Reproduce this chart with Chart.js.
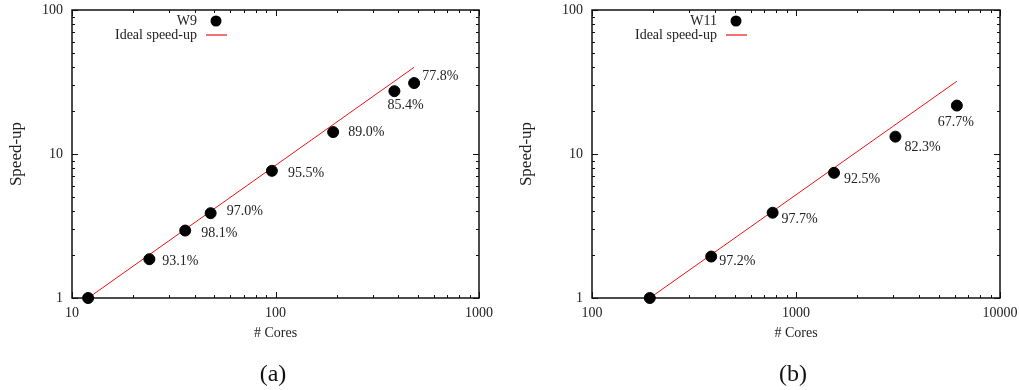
<!DOCTYPE html>
<html>
<head>
<meta charset="utf-8">
<script src="https://cdn.jsdelivr.net/npm/chart.js@4/dist/chart.umd.min.js"></script>
<style>
  body { margin: 0; background: #fff; width: 1019px; height: 390px; position: relative; overflow: hidden; }
  canvas { position: absolute; top: 0; }
  #chartA { left: 0; }
  #chartB { left: 510px; }
  .caption { position: absolute; top: 360px; width: 60px; text-align: center;
             font: 24px "Liberation Serif", "DejaVu Serif", serif; color: #111; }
</style>
</head>
<body>
<canvas id="chartA" width="510" height="390"></canvas>
<canvas id="chartB" width="509" height="390"></canvas>
<div class="caption" style="left:243px">(a)</div>
<div class="caption" style="left:763px">(b)</div>
<script>
// --- data ---
const coresA = [12, 24, 36, 48, 96, 192, 384, 480];
const speedupA = [1, 1.86, 2.94, 3.88, 7.64, 14.2, 27.3, 31.1];
const effLabelsA = [null, "93.1%", "98.1%", "97.0%", "95.5%", "89.0%", "85.4%", "77.8%"];
const idealCoresA = [12, 480];
const idealSpeedupA = [1, 40];

const coresB = [192, 384, 768, 1536, 3072, 6144];
const speedupB = [1, 1.94, 3.91, 7.4, 13.2, 21.7];
const effLabelsB = [null, "97.2%", "97.7%", "92.5%", "82.3%", "67.7%"];
const idealCoresB = [192, 6144];
const idealSpeedupB = [1, 32];

const xTicksA = [10, 100, 1000];
const xTicksB = [100, 1000, 10000];
const yTicks = [1, 10, 100];

// label placement (dx, dy from point centre to the label's left/middle)
const labelOffsetsA = [null, [13, 2], [16, 3], [16, -2], [16, 2], [15, 0], [-7, 14], [8, -7]];
const labelOffsetsB = [null, [8, 5], [9, 7], [10, 6], [9, 11], [-19, 17]];

const SERIF = '"Liberation Serif", "Times New Roman", serif';
const RED = "#ee1111";

const gnuplotFrame = {
  id: "gnuplotFrame",
  beforeDatasetsDraw(chart) {
    const { ctx, chartArea: a, scales } = chart;
    ctx.save();
    ctx.strokeStyle = "#111";
    ctx.lineWidth = 1;
    const tick = (x1, y1, x2, y2) => {
      ctx.beginPath(); ctx.moveTo(x1, y1); ctx.lineTo(x2, y2); ctx.stroke();
    };
    // minor + major ticks, mirrored on all sides
    const decade = (min, max, fn) => {
      for (let d = min; d < max; d *= 10) {
        for (let k = 1; k <= 10; k++) fn(d * k, k === 1 || k === 10);
      }
    };
    decade(scales.x.min, scales.x.max, (v, major) => {
      const px = Math.round(scales.x.getPixelForValue(v)) + 0.5;
      const len = major ? 6 : 3;
      tick(px, a.bottom, px, a.bottom - len);
      tick(px, a.top, px, a.top + len);
    });
    decade(scales.y.min, scales.y.max, (v, major) => {
      const py = Math.round(scales.y.getPixelForValue(v)) + 0.5;
      const len = major ? 6 : 3;
      tick(a.left, py, a.left + len, py);
      tick(a.right, py, a.right - len, py);
    });
    ctx.lineWidth = 1.5;
    ctx.strokeRect(Math.round(a.left), Math.round(a.top), Math.round(a.right - a.left), Math.round(a.bottom - a.top));
    ctx.restore();
  },
  afterDatasetsDraw(chart, args, opts) {
    const { ctx } = chart;
    const meta = chart.getDatasetMeta(0);
    ctx.save();
    ctx.font = "14px " + SERIF;
    ctx.fillStyle = "#222";
    ctx.textAlign = "left";
    ctx.textBaseline = "middle";
    meta.data.forEach((pt, i) => {
      const text = opts.labels[i];
      const off = opts.offsets[i];
      if (!text || !off) return;
      ctx.fillText(text, pt.x + off[0], pt.y + off[1]);
    });
    // legend, gnuplot style (text right-aligned, sample to the right)
    const { x, y } = opts.legend;
    const ds = chart.data.datasets;
    ctx.textAlign = "right";
    ctx.fillText(ds[0].label, x, y);
    ctx.fillText(ds[1].label, x, y + 14);
    ctx.fillStyle = "#000";
    ctx.beginPath();
    ctx.arc(x + 19, y, 5.5, 0, Math.PI * 2);
    ctx.fill();
    ctx.strokeStyle = RED;
    ctx.lineWidth = 1.2;
    ctx.beginPath();
    ctx.moveTo(x + 9, y + 14);
    ctx.lineTo(x + 30, y + 14);
    ctx.stroke();
    ctx.restore();
  }
};

function makeChart(id, cfg) {
  const pts = cfg.cores.map((c, i) => ({ x: c, y: cfg.speedup[i] }));
  const ideal = cfg.idealCores.map((c, i) => ({ x: c, y: cfg.idealSpeedup[i] }));
  return new Chart(document.getElementById(id), {
    type: "scatter",
    data: {
      datasets: [
        { label: cfg.name, data: pts, backgroundColor: "#000", borderColor: "#000",
          pointRadius: 5.5, pointHoverRadius: 5.5, clip: false },
        { label: "Ideal speed-up", type: "line", data: ideal, borderColor: RED,
          borderWidth: 1, pointRadius: 0, fill: false, clip: false }
      ]
    },
    options: {
      responsive: false,
      animation: false,
      events: [],
      layout: { padding: { left: 0, right: cfg.padRight, top: 10, bottom: 48 } },
      plugins: {
        legend: { display: false },
        tooltip: { enabled: false },
        gnuplotFrame: { labels: cfg.labels, offsets: cfg.offsets, legend: cfg.legendPos }
      },
      scales: {
        x: {
          type: "logarithmic", min: cfg.xTicks[0], max: cfg.xTicks[cfg.xTicks.length - 1],
          afterBuildTicks: s => { s.ticks = cfg.xTicks.map(v => ({ value: v })); },
          afterFit: s => { s.height = 44; s.paddingLeft = 0; s.paddingRight = 0; },
          grid: { display: false, drawTicks: false },
          border: { display: false },
          ticks: { callback: v => String(v), padding: 7, color: "#222", maxRotation: 0,
                   font: { family: SERIF, size: 14 } },
          title: { display: true, text: "# Cores", color: "#222", padding: { top: 0, bottom: 0 },
                   font: { family: SERIF, size: 14 } }
        },
        y: {
          type: "logarithmic", min: 1, max: 100,
          afterBuildTicks: s => { s.ticks = yTicks.map(v => ({ value: v })); },
          afterFit: s => { s.width = cfg.yWidth; s.paddingTop = 0; s.paddingBottom = 0; },
          grid: { display: false, drawTicks: false },
          border: { display: false },
          ticks: { callback: v => String(v), padding: 9, color: "#222",
                   font: { family: SERIF, size: 14 } },
          title: { display: true, text: "Speed-up", color: "#222", padding: { top: 6, bottom: 0 },
                   font: { family: SERIF, size: 17 } }
        }
      }
    },
    plugins: [gnuplotFrame]
  });
}

makeChart("chartA", {
  name: "W9", cores: coresA, speedup: speedupA, idealCores: idealCoresA, idealSpeedup: idealSpeedupA,
  labels: effLabelsA, offsets: labelOffsetsA, xTicks: xTicksA,
  padRight: 31, yWidth: 72, legendPos: { x: 197, y: 21 }
});
makeChart("chartB", {
  name: "W11", cores: coresB, speedup: speedupB, idealCores: idealCoresB, idealSpeedup: idealSpeedupB,
  labels: effLabelsB, offsets: labelOffsetsB, xTicks: xTicksB,
  padRight: 19, yWidth: 82, legendPos: { x: 207, y: 21 }
});
</script>
</body>
</html>
